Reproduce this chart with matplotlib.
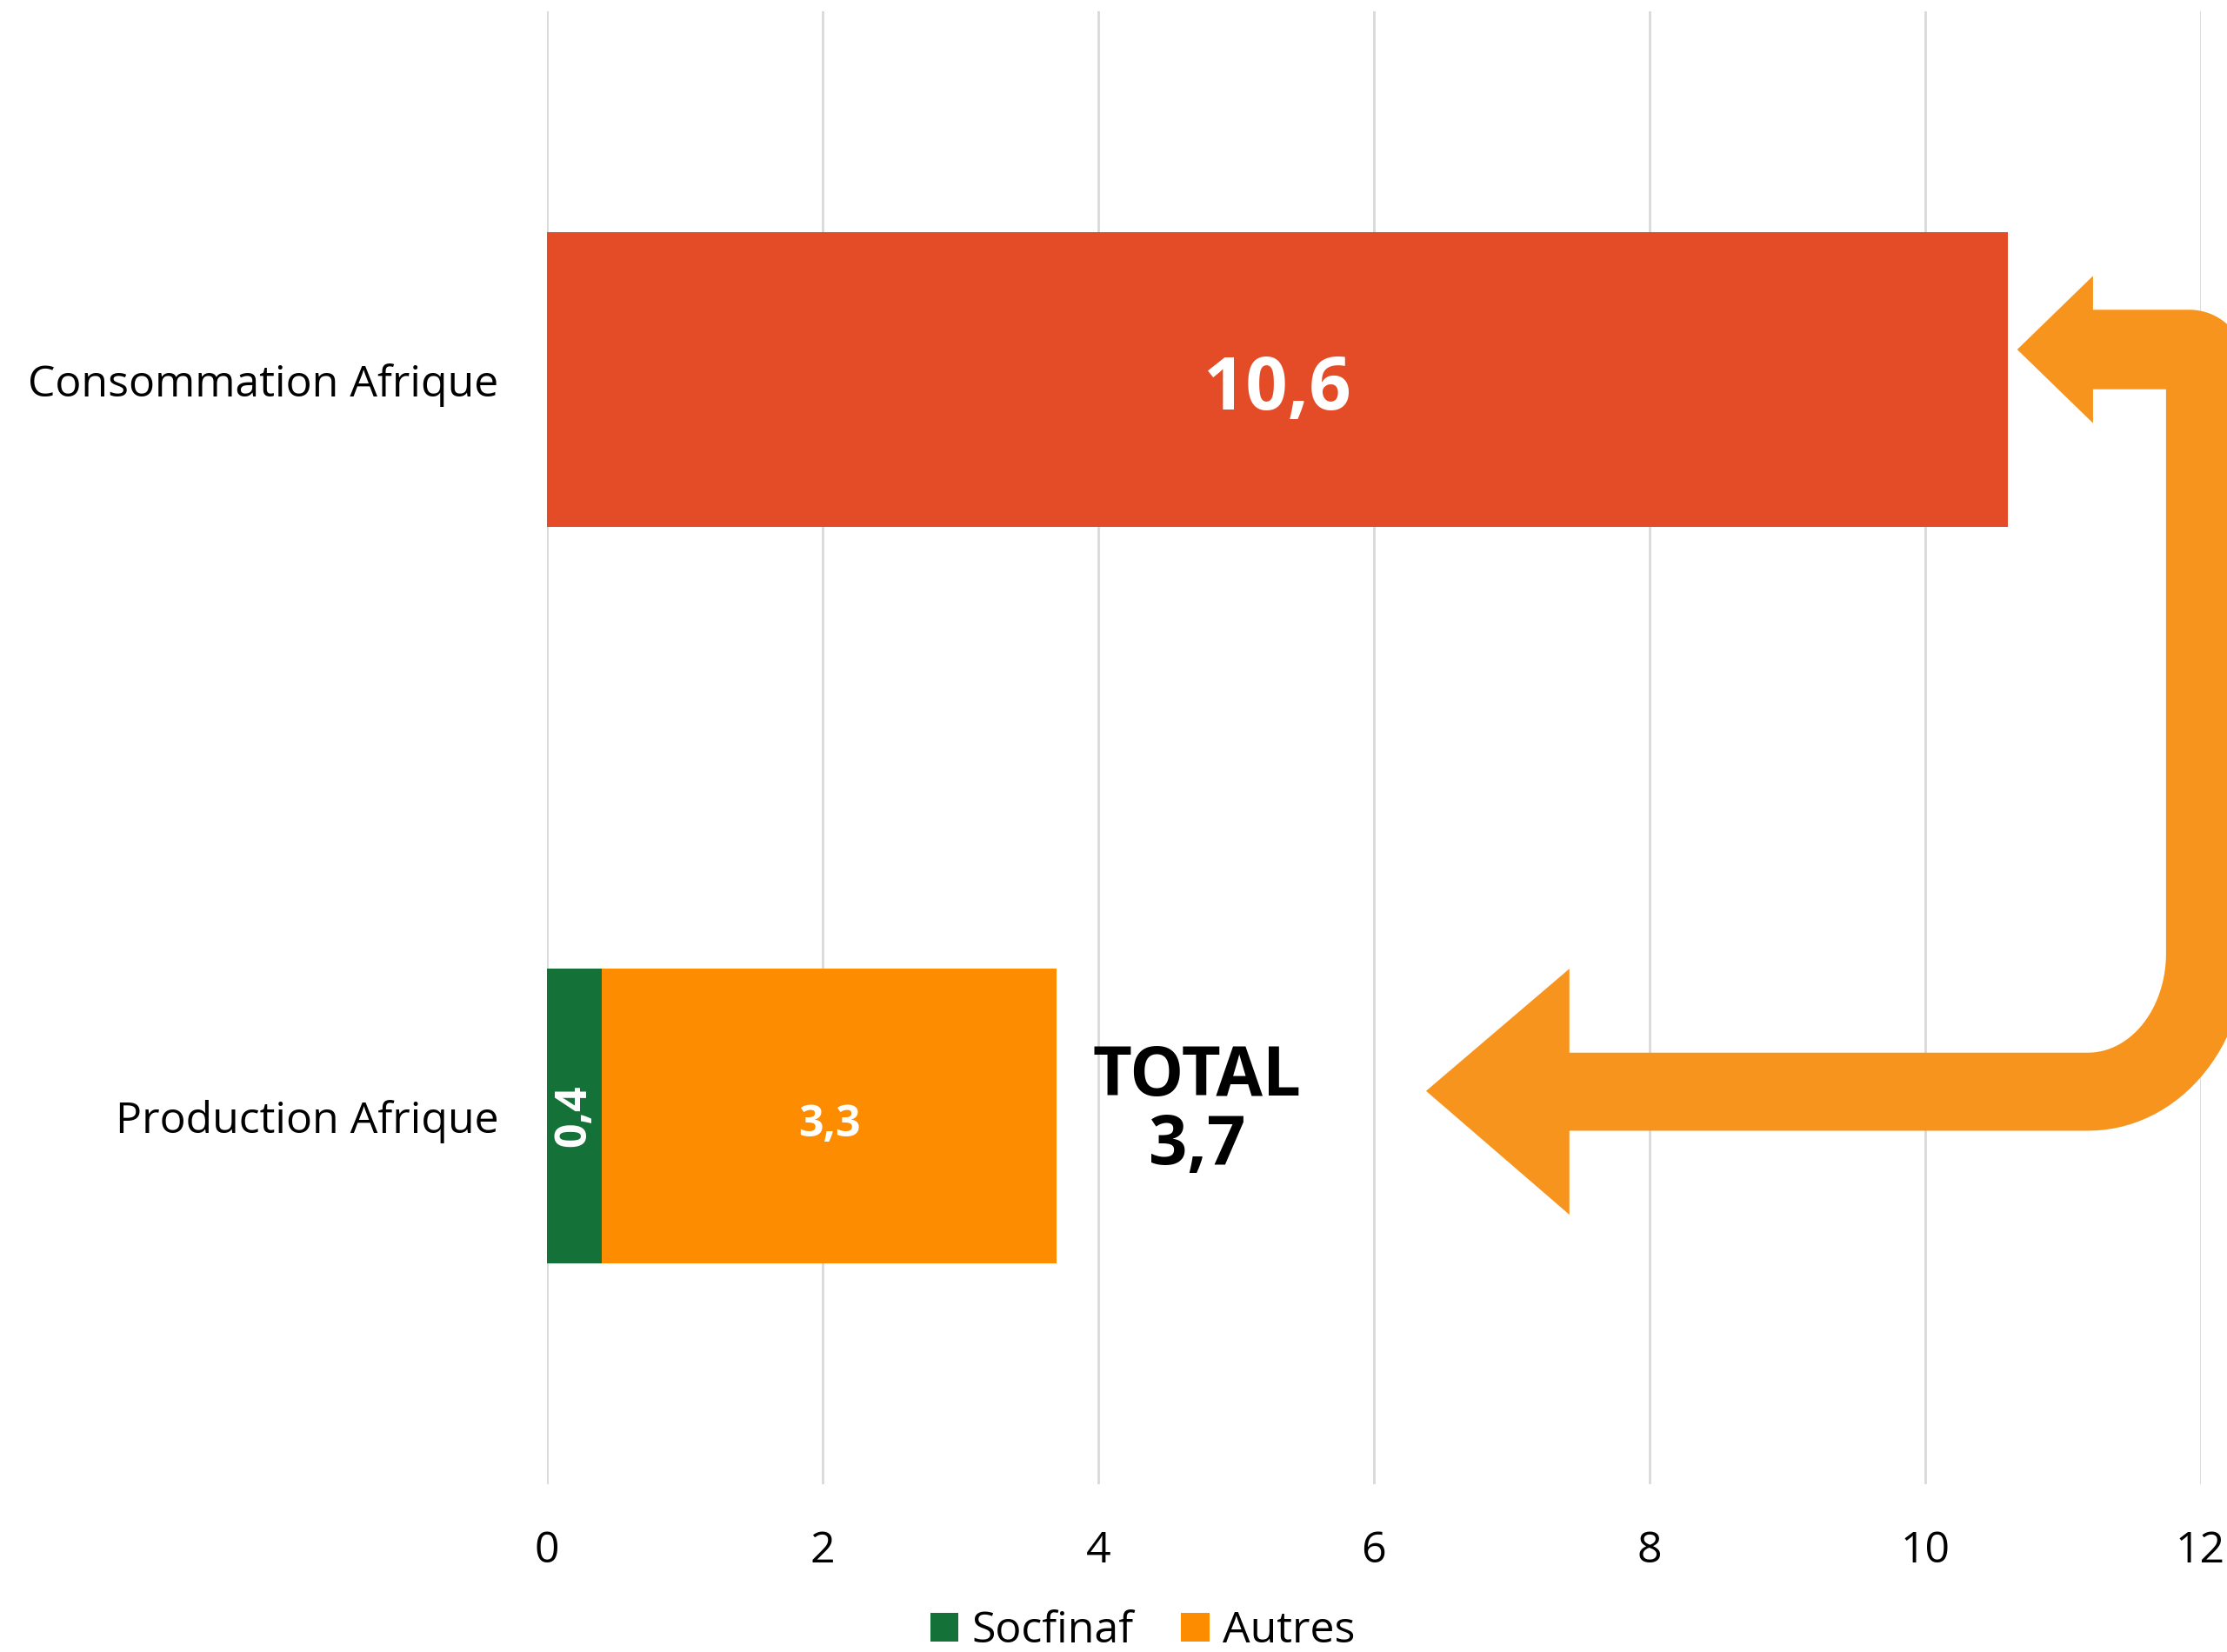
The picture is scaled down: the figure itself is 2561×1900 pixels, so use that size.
import matplotlib
matplotlib.use("Agg")
import matplotlib.pyplot as plt
from matplotlib.patches import Polygon
import numpy as np

plt.rcParams['font.family'] = ['Open Sans', 'DejaVu Sans']

categories = ['Production Afrique', 'Consommation Afrique']
socfinaf = [0.4, 0]
autres = [3.3, 0]
consommation = [0, 10.6]
ticks = [0, 2, 4, 6, 8, 10, 12]

c_red = '#E34C26'
c_green = '#147238'
c_orange = '#FE8C00'
c_arrow = '#F7941E'

fig = plt.figure(figsize=(25.61, 19), dpi=100)
ax = fig.add_axes([0.2456, 0.1016, 0.7425, 0.8914])

y = np.arange(len(categories))
h = 0.4
ax.barh(y, socfinaf, height=h, color=c_green, label='Socfinaf', zorder=2)
ax.barh(y, autres, height=h, left=socfinaf, color=c_orange, label='Autres', zorder=2)
ax.barh(y, consommation, height=h, color=c_red, zorder=2)

ax.set_xlim(0, 12)
ax.set_ylim(-0.5, 1.5)
ax.set_xticks(ticks)
ax.set_xticklabels([str(t) for t in ticks], fontsize=36)
ax.set_yticks(y)
ax.set_yticklabels(categories, fontsize=36)
ax.tick_params(axis='x', length=0, pad=38)
ax.tick_params(axis='y', length=0, pad=40)
for s in ax.spines.values():
    s.set_visible(False)
ax.grid(axis='x', color='#D9D9D9', linewidth=2, zorder=0)
ax.set_axisbelow(True)

# etiquettes de donnees
ax.text(consommation[1] / 2, 1 - 0.015, '10,6', color='white', fontsize=61,
        fontweight='bold', ha='center', va='center', zorder=3)
ax.text(socfinaf[0] / 2, 0, '0,4', color='white', fontsize=36,
        fontweight='bold', ha='center', va='center', rotation=90, zorder=3)
ax.text(socfinaf[0] + autres[0] / 2, -0.012, '3,3', color='white', fontsize=36,
        fontweight='bold', ha='center', va='center', zorder=3)
total = socfinaf[0] + autres[0]
ax.text(4.72, 0.005, 'TOTAL\n' + f'{total:.1f}'.replace('.', ','), color='black',
        fontsize=56, fontweight='bold', ha='center', va='center',
        linespacing=1.0, zorder=3)


# fleche en U de la consommation vers la production
def arc(cx, cy, rx, ry, t0, t1, n=30):
    t = np.radians(np.linspace(t0, t1, n))
    return list(zip(cx + rx * np.cos(t), cy + ry * np.sin(t)))


x_out, x_in = 12.33, 11.75
top_hi, top_lo = 1.095, 0.987
bot_hi, bot_lo = 0.086, -0.020
rxo, ryo = 1.144, 0.243
rxi, ryi = 0.567, 0.135
pts = [(10.67, 1.041), (11.22, 1.141), (11.22, top_hi)]
pts += arc(x_out - 0.41, top_hi - 0.077, 0.41, 0.077, 90, 0)
pts += arc(x_out - rxo, bot_lo + ryo, rxo, ryo, 0, -90)
pts += [(7.42, bot_lo), (7.42, -0.134), (6.38, 0.034), (7.42, 0.200), (7.42, bot_hi)]
pts += arc(x_in - rxi, bot_hi + ryi, rxi, ryi, -90, 0)
pts += [(x_in, top_lo), (11.22, top_lo), (11.22, 0.941)]
ax.add_patch(Polygon(pts, closed=True, facecolor=c_arrow, edgecolor='none',
                     clip_on=False, zorder=4))

handles, labels = ax.get_legend_handles_labels()
fig.legend(handles, labels, loc='center', bbox_to_anchor=(0.513, 0.0125),
           ncol=2, frameon=False, fontsize=36, handlelength=0.65,
           handleheight=0.65, handletextpad=0.3, columnspacing=1.1)

fig.savefig('out.png', dpi=100)
